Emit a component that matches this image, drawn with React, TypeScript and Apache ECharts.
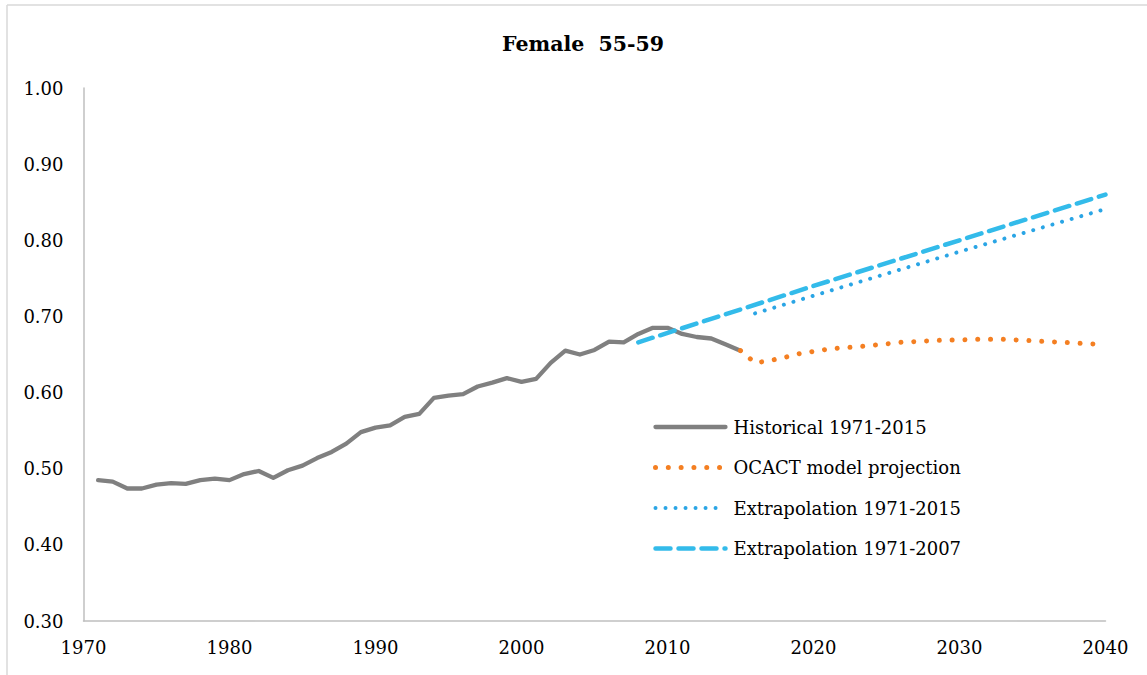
import React, { useEffect, useRef } from "react";
import * as echarts from "echarts";

const historicalYears = [1971,1972,1973,1974,1975,1976,1977,1978,1979,1980,1981,1982,1983,1984,1985,1986,1987,1988,1989,1990,1991,1992,1993,1994,1995,1996,1997,1998,1999,2000,2001,2002,2003,2004,2005,2006,2007,2008,2009,2010,2011,2012,2013,2014,2015];
const historicalValues = [0.485,0.483,0.474,0.474,0.479,0.481,0.480,0.485,0.487,0.485,0.493,0.497,0.488,0.498,0.504,0.514,0.522,0.533,0.548,0.554,0.557,0.568,0.572,0.593,0.596,0.598,0.608,0.613,0.619,0.614,0.618,0.639,0.655,0.650,0.656,0.667,0.666,0.677,0.685,0.685,0.677,0.673,0.671,0.663,0.655];

const ocactYears = [2015,2016,2017,2018,2019,2020,2021,2022,2023,2024,2025,2026,2027,2028,2029,2030,2031,2032,2033,2034,2035,2036,2037,2038,2039,2040];
const ocactValues = [0.655,0.639,0.642,0.646,0.651,0.654,0.657,0.659,0.660,0.662,0.664,0.666,0.667,0.668,0.669,0.669,0.670,0.670,0.670,0.669,0.668,0.667,0.666,0.665,0.664,0.663];

const extrap2015Years = [2016, 2030, 2040];
const extrap2015Values = [0.704, 0.785, 0.841];

const extrap2007Years = [2008, 2020, 2030, 2040];
const extrap2007Values = [0.666, 0.740, 0.800, 0.860];

const xTicks = [1970, 1980, 1990, 2000, 2010, 2020, 2030, 2040];

const seriesNames = [
  "Historical 1971-2015",
  "OCACT model projection",
  "Extrapolation 1971-2015",
  "Extrapolation 1971-2007",
];

const colors = ["#808080", "#f47f22", "#2aa5e5", "#33bbea"];
const widths = [4.3, 5, 4, 4.5];
const dashes: any[] = ["solid", [0.01, 12.8], [0.01, 10], [15, 8]];

const pair = (xs: number[], ys: number[]) => xs.map((x, i) => [x, ys[i]]);

const FONT = "'DejaVu Serif', 'Liberation Serif', serif";

export default function App() {
  const ref = useRef<HTMLDivElement>(null);
  useEffect(() => {
    document.body.style.margin = "0";
    const chart = echarts.init(ref.current!, null, { renderer: "svg" });
    const dataSets = [
      pair(historicalYears, historicalValues),
      pair(ocactYears, ocactValues),
      pair(extrap2015Years, extrap2015Values),
      pair(extrap2007Years, extrap2007Values),
    ];
    chart.setOption({
      animation: false,
      backgroundColor: "#ffffff",
      title: {
        text: "Female  55-59",
        left: 497,
        top: 28,
        textStyle: { fontFamily: FONT, fontSize: 20.5, fontWeight: "bold", color: "#000" },
      },
      graphic: [
        { type: "line", shape: { x1: 7, y1: 5, x2: 7, y2: 675 }, style: { stroke: "#d9d9d9", lineWidth: 1.5 } },
        { type: "line", shape: { x1: 7, y1: 5, x2: 1147, y2: 5 }, style: { stroke: "#d9d9d9", lineWidth: 1.5 } },
      ],
      legend: {
        orient: "vertical",
        left: 653,
        top: 418,
        padding: 0,
        itemWidth: 70,
        itemHeight: 20,
        itemGap: 22.5,
        data: seriesNames.map((name, i) => ({
          name,
          itemStyle: { opacity: 0 },
          lineStyle: { color: colors[i], width: widths[i], type: dashes[i], cap: "round" },
        })),
        textStyle: { fontFamily: FONT, fontSize: 18, color: "#000", padding: [0, 0, 0, 3] },
      },
      grid: { left: 83.5, right: 41.5, top: 88, bottom: 54 },
      xAxis: {
        type: "value",
        min: xTicks[0],
        max: xTicks[xTicks.length - 1],
        interval: 10,
        axisLine: { show: true, lineStyle: { color: "#bfbfbf", width: 1.5 } },
        axisTick: { show: false },
        splitLine: { show: false },
        axisLabel: { fontFamily: FONT, fontSize: 18, color: "#000", margin: 17, formatter: (v: number) => String(v) },
      },
      yAxis: {
        type: "value",
        min: 0.3,
        max: 1.0,
        interval: 0.1,
        axisLine: { show: true, lineStyle: { color: "#bfbfbf", width: 1.5 } },
        axisTick: { show: false },
        splitLine: { show: false },
        axisLabel: {
          fontFamily: FONT,
          fontSize: 18,
          color: "#000",
          margin: 20,
          formatter: (v: number) => v.toFixed(2),
        },
      },
      series: seriesNames.map((name, i) => ({
        name,
        type: "line",
        data: dataSets[i],
        showSymbol: false,
        symbol: "none",
        lineStyle: { color: colors[i], width: widths[i], type: dashes[i], cap: "round", join: "round" },
        itemStyle: { color: colors[i] },
      })),
    });
    return () => chart.dispose();
  }, []);
  return <div ref={ref} style={{ width: 1147, height: 675 }} />;
}
